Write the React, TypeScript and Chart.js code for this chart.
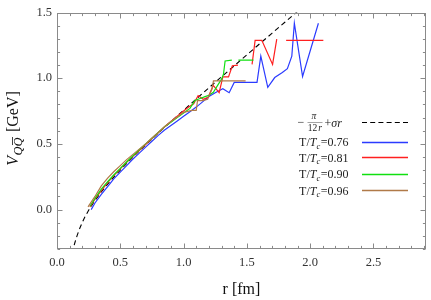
import React, { useEffect, useRef } from "react";
import { Chart, registerables } from "chart.js";
Chart.register(...registerables);

// Coulomb + linear reference curve
const dashR = [0.12, 0.13, 0.14, 0.15, 0.16, 0.18, 0.2, 0.22, 0.25, 0.3, 0.35, 0.4, 0.45, 0.5, 0.6, 0.7, 0.8, 0.9, 1.0, 1.1, 1.2, 1.3, 1.4, 1.5, 1.6, 1.7, 1.8, 1.9, 1.95];
const dashV = [-0.334, -0.293, -0.256, -0.224, -0.194, -0.142, -0.097, -0.057, -0.005, 0.07, 0.135, 0.194, 0.249, 0.301, 0.399, 0.492, 0.582, 0.67, 0.756, 0.842, 0.927, 1.011, 1.094, 1.178, 1.261, 1.343, 1.426, 1.508, 1.55];

// T/Tc = 0.76
const blueR = [0.27, 0.3, 0.35, 0.4, 0.45, 0.5, 0.55, 0.6, 0.65, 0.7, 0.75, 0.8, 0.85, 0.9, 0.95, 1.0, 1.05, 1.1, 1.15, 1.2, 1.25, 1.31, 1.36, 1.4, 1.58, 1.61, 1.665, 1.72, 1.78, 1.82, 1.855, 1.875, 1.94, 2.065];
const blueV = [0.0, 0.05, 0.115, 0.175, 0.235, 0.285, 0.335, 0.385, 0.43, 0.475, 0.52, 0.565, 0.605, 0.64, 0.675, 0.71, 0.745, 0.78, 0.82, 0.86, 0.89, 0.92, 0.89, 0.968, 0.968, 1.168, 0.93, 1.005, 1.043, 1.073, 1.168, 1.418, 1.013, 1.418];

// T/Tc = 0.81
const redR = [0.26, 0.3, 0.35, 0.4, 0.45, 0.5, 0.55, 0.6, 0.65, 0.7, 0.75, 0.8, 0.85, 0.9, 0.95, 1.0, 1.04, 1.08, 1.115, 1.155, 1.194, 1.234, 1.281, 1.31, 1.355, 1.385, 1.43, 1.48, 1.541, 1.565, 1.618, 1.703, 1.736, 1.77, 1.81, 2.104];
const redV = [0.02, 0.08, 0.145, 0.205, 0.26, 0.31, 0.36, 0.405, 0.45, 0.495, 0.54, 0.585, 0.63, 0.67, 0.71, 0.75, 0.78, 0.805, 0.868, 0.84, 0.855, 0.945, 0.89, 1.01, 1.01, 1.095, 1.1, null, 1.105, 1.288, 1.288, 1.105, 1.298, null, 1.288, 1.288];

// T/Tc = 0.90
const greenR = [0.26, 0.3, 0.35, 0.4, 0.45, 0.5, 0.55, 0.6, 0.65, 0.7, 0.75, 0.8, 0.85, 0.9, 0.95, 1.0, 1.05, 1.09, 1.13, 1.17, 1.2, 1.235, 1.275, 1.3, 1.315, 1.328, 1.381, 1.41, 1.433, 1.552];
const greenV = [0.025, 0.085, 0.155, 0.212, 0.265, 0.314, 0.362, 0.41, 0.455, 0.5, 0.543, 0.587, 0.63, 0.665, 0.7, 0.735, 0.77, 0.83, 0.845, 0.86, 0.87, 0.893, 0.955, 0.993, 1.03, 1.131, 1.138, null, 1.138, 1.138];

// T/Tc = 0.96
const brownR = [0.245, 0.3, 0.35, 0.4, 0.45, 0.5, 0.55, 0.6, 0.65, 0.7, 0.75, 0.8, 0.85, 0.9, 0.95, 1.0, 1.066, 1.1, 1.11, 1.15, 1.19, 1.225, 1.236, 1.49];
const brownV = [0.02, 0.1, 0.18, 0.24, 0.29, 0.335, 0.38, 0.42, 0.46, 0.5, 0.545, 0.588, 0.63, 0.67, 0.705, 0.74, 0.755, 0.755, 0.83, 0.83, 0.84, 0.92, 0.98, 0.98];

const xTicks = [0, 0.5, 1.0, 1.5, 2.0, 2.5];
const yTicks = [0, 0.5, 1.0, 1.5];
const legendValues = ["0.76", "0.81", "0.90", "0.96"];

const BLUE = "#2b3bff";
const RED = "#ff2020";
const GREEN = "#10e010";
const BROWN = "#b07a48";
const SERIF = '"Liberation Serif", "DejaVu Serif", serif';

const pts = (r: number[], v: (number | null)[]) => r.map((x, i) => ({ x, y: v[i] }));

type Run = { t: string; size: number; italic?: boolean; dy?: number; gap?: number; over?: boolean };

function runsWidth(ctx: CanvasRenderingContext2D, runs: Run[]) {
  let w = 0;
  for (const r of runs) {
    ctx.font = `${r.italic ? "italic " : ""}${r.size}px ${SERIF}`;
    w += ctx.measureText(r.t).width + (r.gap || 0);
  }
  return w;
}
function drawRuns(ctx: CanvasRenderingContext2D, runs: Run[], x0: number, base: number) {
  let x = x0;
  for (const r of runs) {
    ctx.font = `${r.italic ? "italic " : ""}${r.size}px ${SERIF}`;
    const w = ctx.measureText(r.t).width;
    ctx.fillText(r.t, x, base + (r.dy || 0));
    if (r.over) {
      ctx.save();
      ctx.lineWidth = 0.8;
      ctx.beginPath();
      const yy = base + (r.dy || 0) - r.size * 0.72;
      ctx.moveTo(x + 1.5, yy);
      ctx.lineTo(x + w + 0.5, yy);
      ctx.stroke();
      ctx.restore();
    }
    x += w + (r.gap || 0);
  }
}

const framePlugin = {
  id: "frameAndLegend",
  afterDraw(chart: any) {
    const ctx: CanvasRenderingContext2D = chart.ctx;
    const xs = chart.scales.x;
    const ys = chart.scales.y;
    const L = Math.round(xs.getPixelForValue(xs.min)) + 0.5;
    const R = Math.round(xs.getPixelForValue(xs.max)) - 0.5;
    const T = Math.round(ys.getPixelForValue(ys.max)) + 0.5;
    const B = Math.round(ys.getPixelForValue(ys.min)) - 0.5;
    ctx.save();
    ctx.strokeStyle = "#8a8a8a";
    ctx.lineWidth = 1;
    ctx.strokeRect(L, T, R - L, B - T);
    ctx.beginPath();
    for (let i = 0; i <= 29; i++) {
      const v = i / 10;
      if (v > xs.max) break;
      const p = Math.round(xs.getPixelForValue(v)) + 0.5;
      const len = i % 5 === 0 ? 5 : 2.6;
      ctx.moveTo(p, B); ctx.lineTo(p, B - len);
      ctx.moveTo(p, T); ctx.lineTo(p, T + len);
    }
    for (let i = -3; i <= 15; i++) {
      const v = i / 10;
      const p = Math.round(ys.getPixelForValue(v)) + 0.5;
      const len = ((i % 5) + 5) % 5 === 0 ? 5 : 2.6;
      ctx.moveTo(L, p); ctx.lineTo(L + len, p);
      ctx.moveTo(R, p); ctx.lineTo(R - len, p);
    }
    ctx.stroke();

    // axis titles
    ctx.fillStyle = "#111";
    ctx.strokeStyle = "#111";
    ctx.textBaseline = "alphabetic";
    ctx.textAlign = "left";
    const xt: Run[] = [{ t: "r [fm]", size: 16 }];
    const xw = runsWidth(ctx, xt);
    drawRuns(ctx, xt, (L + R) / 2 - xw / 2, 294);

    const yt: Run[] = [
      { t: "V", size: 16, italic: true, gap: 0.5 },
      { t: "Q", size: 12.5, italic: true, dy: 4 },
      { t: "Q", size: 12.5, italic: true, dy: 4, over: true, gap: 1.5 },
      { t: " [GeV]", size: 16 },
    ];
    const yw = runsWidth(ctx, yt);
    ctx.save();
    ctx.translate(17.5, 128.5);
    ctx.rotate(-Math.PI / 2);
    drawRuns(ctx, yt, -yw / 2, 0);
    ctx.restore();

    // legend
    const lx0 = 362, lx1 = 408;
    ctx.fillStyle = "#222";
    // formula row
    ctx.font = `12px ${SERIF}`;
    ctx.fillText("\u2212", 297.5, 126);
    ctx.font = `italic 9.5px ${SERIF}`;
    ctx.textAlign = "center";
    ctx.fillText("\u03c0", 314, 118.5);
    ctx.font = `9.5px ${SERIF}`;
    ctx.fillText("12", 312.5, 131);
    ctx.font = `italic 9.5px ${SERIF}`;
    ctx.fillText("r", 320, 131);
    ctx.textAlign = "left";
    ctx.save();
    ctx.strokeStyle = "#666";
    ctx.lineWidth = 0.6;
    ctx.beginPath();
    ctx.moveTo(307.5, 122.5); ctx.lineTo(322.5, 122.5);
    ctx.stroke();
    ctx.restore();
    drawRuns(ctx, [
      { t: "+", size: 12 },
      { t: "\u03c3r", size: 12, italic: true },
    ], 324.5, 126.5);
    ctx.save();
    ctx.strokeStyle = "#000";
    ctx.lineWidth = 1.1;
    ctx.setLineDash([5, 3.2]);
    ctx.beginPath();
    ctx.moveTo(lx0, 122.5); ctx.lineTo(lx1, 122.5);
    ctx.stroke();
    ctx.restore();

    const cols = [BLUE, RED, GREEN, BROWN];
    const bases = [146, 161.7, 178.3, 194.5];
    legendValues.forEach((val, i) => {
      const runs: Run[] = [
        { t: "T/", size: 12 },
        { t: "T", size: 12, italic: true },
        { t: "c", size: 8.5, italic: true, dy: 2.5, gap: 0.5 },
        { t: "=" + val, size: 12 },
      ];
      const w = runsWidth(ctx, runs);
      ctx.fillStyle = "#222";
      drawRuns(ctx, runs, 348.5 - w, bases[i]);
      ctx.save();
      ctx.strokeStyle = cols[i];
      ctx.lineWidth = 1.3;
      ctx.beginPath();
      const ly = Math.round(bases[i] - 4.5) + 0.5;
      ctx.moveTo(lx0, ly); ctx.lineTo(lx1, ly);
      ctx.stroke();
      ctx.restore();
    });
    ctx.restore();
  },
};

export default function App() {
  const ref = useRef<HTMLCanvasElement>(null);
  useEffect(() => {
    const tickFont = { family: SERIF, size: 12.5 };
    const chart = new Chart(ref.current as HTMLCanvasElement, {
      type: "line",
      data: {
        datasets: [
          { label: "dash", data: pts(dashR, dashV), borderColor: "#000", borderWidth: 1.1, borderDash: [5, 3.5], pointRadius: 0, fill: false, order: 5 },
          { label: "0.76", data: pts(blueR, blueV), borderColor: BLUE, borderWidth: 1.2, pointRadius: 0, fill: false, spanGaps: false, order: 4 },
          { label: "0.81", data: pts(redR, redV), borderColor: RED, borderWidth: 1.2, pointRadius: 0, fill: false, spanGaps: false, order: 3 },
          { label: "0.90", data: pts(greenR, greenV), borderColor: GREEN, borderWidth: 1.2, pointRadius: 0, fill: false, spanGaps: false, order: 2 },
          { label: "0.96", data: pts(brownR, brownV), borderColor: BROWN, borderWidth: 1.2, pointRadius: 0, fill: false, spanGaps: false, order: 1 },
        ] as any,
      },
      options: {
        animation: false,
        responsive: false,
        devicePixelRatio: 1,
        layout: { padding: { top: 7, right: 5, left: 0, bottom: 0 } },
        plugins: { legend: { display: false }, tooltip: { enabled: false } },
        elements: { point: { radius: 0 }, line: { tension: 0 } },
        scales: {
          x: {
            type: "linear",
            min: 0,
            max: 2.915,
            grid: { display: false, drawTicks: false },
            border: { display: false },
            ticks: { font: tickFont, color: "#333", padding: 6, maxRotation: 0, autoSkip: false, callback: (v: any) => Number(v).toFixed(1) },
            afterBuildTicks: (s: any) => { s.ticks = xTicks.map((value) => ({ value })); },
            afterFit: (s: any) => { s.height = 51; },
          },
          y: {
            type: "linear",
            min: -0.3,
            max: 1.5,
            grid: { display: false, drawTicks: false },
            border: { display: false },
            ticks: { font: tickFont, color: "#333", padding: 5, autoSkip: false, callback: (v: any) => Number(v).toFixed(1) },
            afterBuildTicks: (s: any) => { s.ticks = yTicks.map((value) => ({ value })); },
            afterFit: (s: any) => { s.width = 57; },
          },
        },
      } as any,
      plugins: [framePlugin],
    });
    return () => chart.destroy();
  }, []);
  return (
    <div style={{ position: "fixed", left: 0, top: 0, width: 431, height: 300, background: "#fff" }}>
      <canvas ref={ref} width={431} height={300} style={{ display: "block", width: 431, height: 300 }} />
    </div>
  );
}
